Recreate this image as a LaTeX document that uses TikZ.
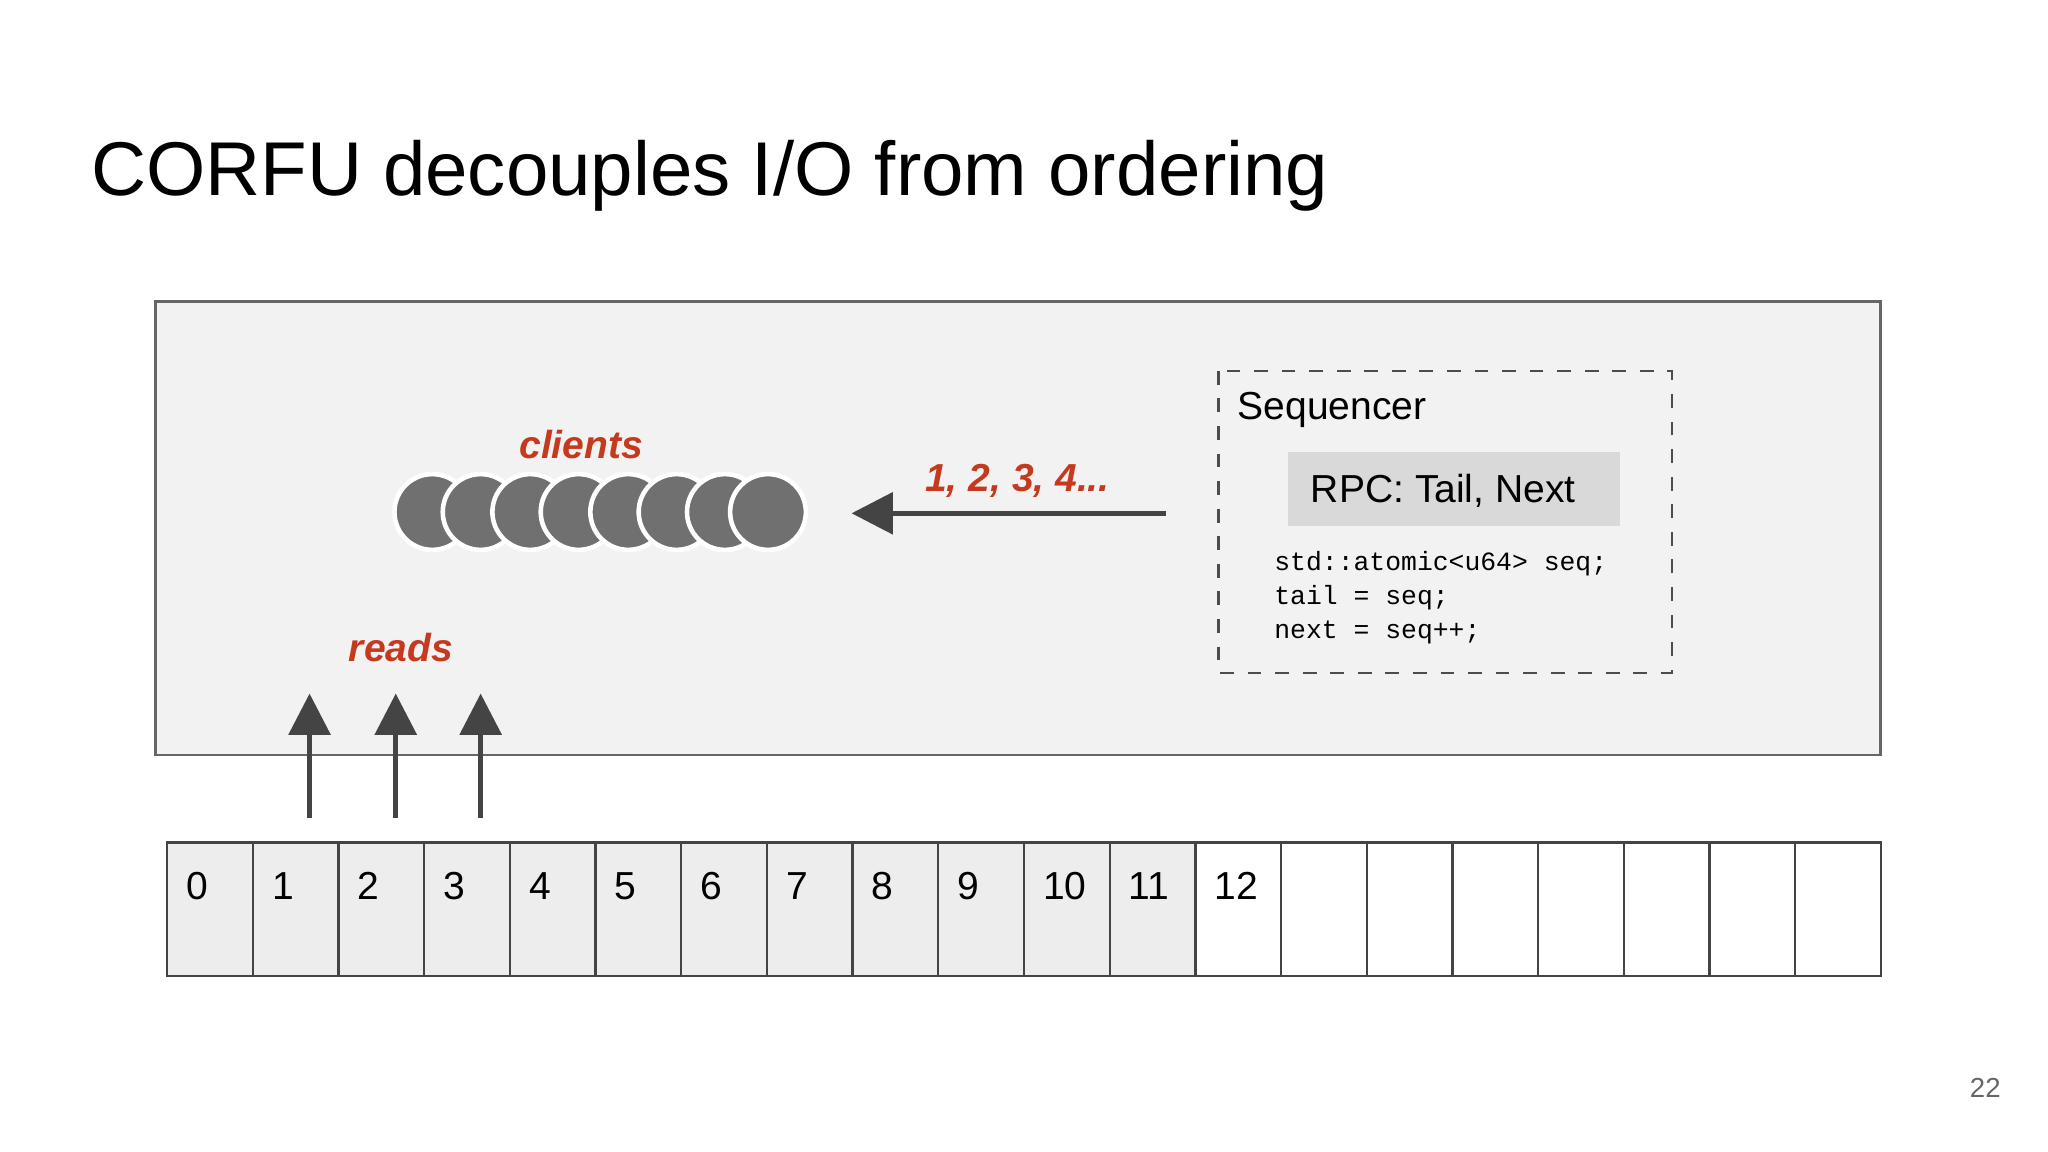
\documentclass[tikz,border=0pt]{standalone}
\usepackage{fontspec}
\setmainfont{Liberation Sans}
\newfontfamily\codefont{Liberation Mono}
\usetikzlibrary{arrows.meta}
\definecolor{accent}{HTML}{C5391F}
\definecolor{darkarrow}{HTML}{444444}
\definecolor{panel}{HTML}{F3F2F2}
\definecolor{cellfill}{HTML}{EEEDED}
\begin{document}
\begin{tikzpicture}[x=0.01cm,y=-0.01cm,
  lbl/.style={font=\fontsize{8.5}{10}\selectfont\bfseries\itshape,text=accent},
  codeline/.style={anchor=base west,font=\codefont\fontsize{5.75}{7}\selectfont,inner sep=0},
  uparrow/.style={draw=darkarrow,line width=1.1pt,-{Triangle[length=9pt,width=9pt]}},
  cellbox/.style={draw=darkarrow,line width=0.5pt},
  client/.style={circle,fill=black!56,draw=white,line width=1pt,minimum size=0.58cm,inner sep=0pt}]
\useasboundingbox (0,0) rectangle (1568,882);
\fill[white] (0,0) rectangle (1568,882);
\node[anchor=base west,font=\fontsize{16.6}{20}\selectfont,inner sep=0] (title) at (69,150) {CORFU decouples I/O from ordering};
\draw[fill=panel,draw=black!60,line width=0.6pt] (119,231) rectangle (1440,578);
\draw[dashed,draw=black!70,line width=0.5pt] (933,284) rectangle (1280,515);
\node[anchor=base west,font=\fontsize{8.5}{10}\selectfont,inner sep=0] (seq) at (947,321) {Sequencer};
\fill[black!15] (986,346) rectangle (1240,403);
\node[font=\fontsize{8.5}{10}\selectfont] (rpc) at (1105,376) {RPC: Tail, Next};
\node[codeline] (code1) at (975,437) {std::atomic<u64> seq;};
\node[codeline] (code2) at (975,463) {tail = seq;};
\node[codeline] (code3) at (975,489) {next = seq++;};
\coordinate (as) at (893,393);
\coordinate (ae) at (652,393);
\draw[draw=darkarrow,line width=1.1pt,-{Triangle[length=9pt,width=9pt]}] (as) -- (ae);
\node[lbl] (nums) at (779,368) {1, 2, 3, 4...};
\node[lbl] (clients) at (445,340) {clients};
\foreach \i/\x in {1/331,2/368,3/406,4/443,5/481,6/518,7/555,8/588}
  \node[client] (c\i) at (\x,392) {};
\node[lbl] (reads) at (307,496) {reads};
\foreach \i/\x in {1/237,2/303,3/368}{
  \coordinate (r\i) at (\x,626);
  \coordinate (t\i) at (\x,531);
  \draw[uparrow] (r\i) -- (t\i);}
\foreach \k in {0,...,19}{
  \pgfmathsetmacro{\xa}{128+\k*65.6}
  \pgfmathsetmacro{\xb}{128+(\k+1)*65.6}
  \ifnum\k<12 \def\cf{cellfill}\else\def\cf{white}\fi
  \draw[cellbox,fill=\cf] (\xa,645) rectangle (\xb,747);
  \ifnum\k<13
    \node[anchor=base west,font=\fontsize{8.5}{10}\selectfont,inner sep=0] (n\k) at (\xa+14,689) {\k};
  \fi}
\node[font=\fontsize{6}{7}\selectfont,text=black!60] (page) at (1520,833) {22};
\end{tikzpicture}
\end{document}
